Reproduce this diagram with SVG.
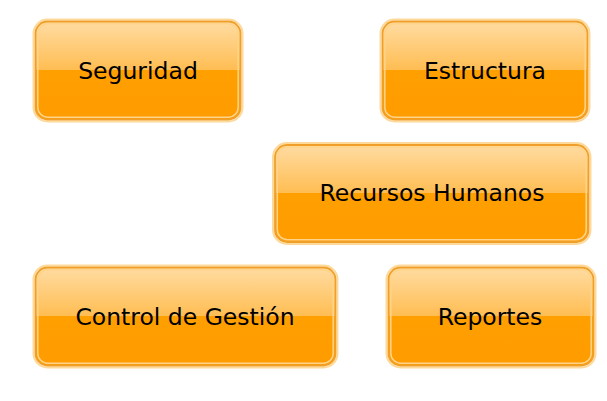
<svg xmlns="http://www.w3.org/2000/svg" width="607" height="401" viewBox="0 0 607 401">
<defs>
<linearGradient id="gloss" x1="0" y1="0" x2="0" y2="1">
<stop offset="0" stop-color="#ffdca2"/>
<stop offset="0.5" stop-color="#ffbd52"/>
<stop offset="0.5" stop-color="#ff9f00"/>
<stop offset="1" stop-color="#ff9c00"/>
</linearGradient>
<style>
.halo{fill:none;stroke:#fdd99a;stroke-width:2}
.body{fill:url(#gloss);stroke:#f0a02a;stroke-width:1.8}
.inner{fill:none;stroke:#ffd48a;stroke-width:1.5}
.lbl{font-family:"DejaVu Sans",sans-serif;font-size:23.5px;fill:#000;text-anchor:middle;dominant-baseline:central}
</style>
</defs>
<rect width="607" height="401" fill="#fff"/>
<g id="connectors"/>
<g id="seguridad">
<rect class="halo" x="33.5" y="19.5" width="209" height="102" rx="14"/>
<rect class="body" x="35.5" y="21.5" width="205" height="98" rx="12"/>
<rect class="inner" x="37.8" y="23.8" width="200.4" height="93.4" rx="10"/>
<text class="lbl" x="138" y="71">Seguridad</text>
</g>
<g id="estructura">
<rect class="halo" x="380.5" y="19.5" width="209" height="102" rx="14"/>
<rect class="body" x="382.5" y="21.5" width="205" height="98" rx="12"/>
<rect class="inner" x="384.8" y="23.8" width="200.4" height="93.4" rx="10"/>
<text class="lbl" x="485" y="71">Estructura</text>
</g>
<g id="recursos">
<rect class="halo" x="273" y="143" width="317.5" height="101" rx="14"/>
<rect class="body" x="275" y="145" width="313.5" height="97" rx="12"/>
<rect class="inner" x="277.3" y="147.3" width="308.9" height="92.4" rx="10"/>
<text class="lbl" x="432" y="193">Recursos Humanos</text>
</g>
<g id="control">
<rect class="halo" x="33.5" y="265.5" width="304" height="102" rx="14"/>
<rect class="body" x="35.5" y="267.5" width="300" height="98" rx="12"/>
<rect class="inner" x="37.8" y="269.8" width="295.4" height="93.4" rx="10"/>
<text class="lbl" x="185" y="317">Control de Gestión</text>
</g>
<g id="reportes">
<rect class="halo" x="386.5" y="265.5" width="209" height="102" rx="14"/>
<rect class="body" x="388.5" y="267.5" width="205" height="98" rx="12"/>
<rect class="inner" x="390.8" y="269.8" width="200.4" height="93.4" rx="10"/>
<text class="lbl" x="490" y="317">Reportes</text>
</g>
</svg>
